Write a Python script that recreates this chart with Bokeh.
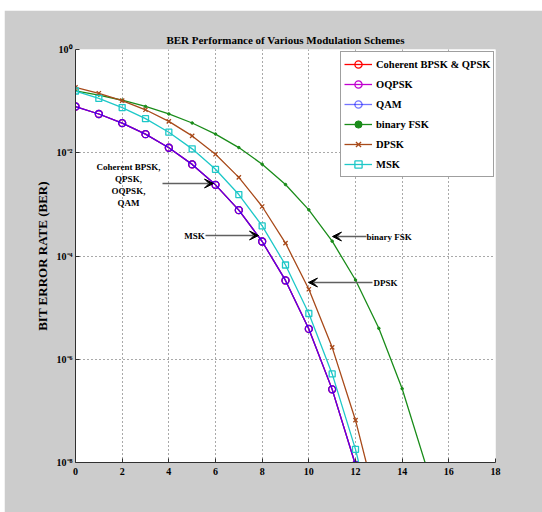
from bokeh.plotting import figure
from bokeh.models import (Range1d, FixedTicker, CustomJSTickFormatter, Label,
                          Arrow, VeeHead)
from bokeh.embed import file_html
from bokeh.resources import INLINE

# ---------------- data ----------------
snr_psk = [0, 1, 2, 3, 4, 5, 6, 7, 8, 9, 10, 11, 12, 13]
ber_bpsk_qpsk = [7.86e-2, 5.63e-2, 3.75e-2, 2.29e-2, 1.25e-2, 5.95e-3, 2.39e-3,
                 7.73e-4, 1.91e-4, 3.36e-5, 3.87e-6, 2.61e-7, 9.0e-9, 1.3e-10]
ber_oqpsk = [7.86e-2, 5.63e-2, 3.75e-2, 2.29e-2, 1.25e-2, 5.95e-3, 2.39e-3,
             7.73e-4, 1.91e-4, 3.36e-5, 3.87e-6, 2.61e-7, 9.0e-9, 1.3e-10]
ber_qam = [7.86e-2, 5.63e-2, 3.75e-2, 2.29e-2, 1.25e-2, 5.95e-3, 2.39e-3,
           7.73e-4, 1.91e-4, 3.36e-5, 3.87e-6, 2.61e-7, 9.0e-9, 1.3e-10]

snr_fsk = [0, 1, 2, 3, 4, 5, 6, 7, 8, 9, 10, 11, 12, 13, 14, 15]
ber_fsk = [0.1587, 0.1309, 0.1040, 0.0789, 0.0565, 0.0377, 0.0230, 1.26e-2,
           6.0e-3, 2.42e-3, 7.83e-4, 1.94e-4, 3.43e-5, 3.97e-6, 2.69e-7, 9.4e-9]

snr_dpsk = [0, 1, 2, 3, 4, 5, 6, 7, 8, 9, 10, 11, 12, 13]
ber_dpsk = [0.184, 0.142, 0.1025, 0.068, 0.0406, 0.0212, 9.34e-3, 3.33e-3,
            9.09e-4, 1.78e-4, 2.27e-5, 1.70e-6, 6.6e-8, 1.09e-9]

snr_msk = [0, 1, 2, 3, 4, 5, 6, 7, 8, 9, 10, 11, 12, 13]
ber_msk = [0.157, 0.113, 0.075, 0.0458, 0.025, 0.0119, 4.78e-3, 1.55e-3,
           3.82e-4, 6.7e-5, 7.7e-6, 5.2e-7, 1.8e-8, 2.6e-10]

x_ticks = [0, 2, 4, 6, 8, 10, 12, 14, 16, 18]
y_ticks = [1, 1e-2, 1e-4, 1e-6, 1e-8]

title_text = "BER Performance of Various Modulation Schemes"
y_label = "BIT ERROR RATE (BER)"

FONT = "Liberation Serif"

# ---------------- figure ----------------
OX, OY = 4, 10                      # page offset of the grey figure area
W, H = 538, 502
ML, MR, MT, MB = 75 - OX, W - (495 - OX), 49 - OY, H - (462 - OY)
p = figure(width=W, height=H, output_backend="svg", toolbar_location=None,
           y_axis_type="log", x_range=Range1d(0, 18), y_range=Range1d(1e-8, 1),
           min_border_left=ML, min_border_right=MR, min_border_top=MT,
           min_border_bottom=MB, title=title_text)
p.styles = {"margin-left": f"{OX}px", "margin-top": f"{OY}px"}
p.border_fill_color = "#cccccc"
p.background_fill_color = "white"
p.outline_line_color = None

p.title.align = "center"
p.title.text_font = FONT
p.title.text_font_style = "bold"
p.title.text_font_size = "11px"
p.title.text_color = "black"
p.title.standoff = 7

# axes
for ax in (p.xaxis[0], p.yaxis[0]):
    ax.axis_line_color = "#303030"
    ax.axis_line_width = 1
    ax.major_tick_in = 4
    ax.major_tick_out = 0
    ax.major_tick_line_color = "#303030"
    ax.minor_tick_line_color = None
    ax.major_label_text_font = FONT
    ax.major_label_text_font_style = "bold"
    ax.major_label_text_font_size = "10px"
    ax.major_label_text_color = "black"

p.xaxis.ticker = FixedTicker(ticks=x_ticks)
p.xaxis.major_label_standoff = 5
p.yaxis.ticker = FixedTicker(ticks=y_ticks)
p.yaxis.major_label_standoff = 3
p.yaxis.formatter = CustomJSTickFormatter(code="""
const sup = {"0":"\u2070","1":"\u00b9","2":"\u00b2","3":"\u00b3","4":"\u2074",
             "5":"\u2075","6":"\u2076","7":"\u2077","8":"\u2078","9":"\u2079","-":"\u207b"};
const e = Math.round(Math.log10(tick));
return "10" + String(e).split("").map(c => sup[c]).join("");
""")
p.yaxis.axis_label = y_label
p.yaxis.axis_label_text_font = FONT
p.yaxis.axis_label_text_font_style = "bold"
p.yaxis.axis_label_text_font_size = "13px"
p.yaxis.axis_label_text_color = "black"
p.yaxis.axis_label_standoff = 4

for g in (p.xgrid[0], p.ygrid[0]):
    g.grid_line_color = "#404040"
    g.grid_line_dash = "1 3"
    g.grid_line_width = 1
    g.grid_line_alpha = 0.9

# ---------------- series ----------------
RED, MAG, BLUE = "#ff0000", "#c000d0", "#0000ff"
GREEN, BROWN, CYAN = "#1a8c1a", "#a84a1a", "#1ec8c8"

lbl1 = "Coherent BPSK & QPSK"
p.line(snr_psk, ber_bpsk_qpsk, color=RED, line_width=1.3, legend_label=lbl1)
p.scatter(snr_psk, ber_bpsk_qpsk, marker="circle", size=7, line_color=RED,
          fill_color=None, line_width=1.3, legend_label=lbl1)

lbl2 = "OQPSK"
p.line(snr_psk, ber_oqpsk, color=MAG, line_width=1.3, legend_label=lbl2)
p.scatter(snr_psk, ber_oqpsk, marker="circle", size=7, line_color=MAG,
          fill_color=None, line_width=1.3, legend_label=lbl2)

lbl3 = "QAM"
p.line(snr_psk, ber_qam, color=BLUE, line_width=1.3, line_alpha=0.55, legend_label=lbl3)
p.scatter(snr_psk, ber_qam, marker="circle", size=7, line_color=BLUE,
          fill_color=None, line_width=1.3, line_alpha=0.55, legend_label=lbl3)

lbl4 = "binary FSK"
p.line(snr_fsk, ber_fsk, color=GREEN, line_width=1.3, legend_label=lbl4)
p.scatter(snr_fsk, ber_fsk, marker="circle", size=2.5, color=GREEN, legend_label=lbl4)

lbl5 = "DPSK"
p.line(snr_dpsk, ber_dpsk, color=BROWN, line_width=1.3, legend_label=lbl5)
p.scatter(snr_dpsk, ber_dpsk, marker="x", size=6, line_color=BROWN,
          line_width=1.3, legend_label=lbl5)

lbl6 = "MSK"
p.line(snr_msk, ber_msk, color=CYAN, line_width=1.3, legend_label=lbl6)
p.scatter(snr_msk, ber_msk, marker="square", size=6, line_color=CYAN,
          fill_color=None, line_width=1.3, legend_label=lbl6)

# ---------------- legend ----------------
lg = p.legend[0]
lg.location = (265, 285)
lg.margin = 0
lg.padding = 3
lg.spacing = 2
lg.glyph_height = 18
lg.label_height = 18
lg.glyph_width = 28
lg.label_standoff = 4
lg.label_text_font = FONT
lg.label_text_font_style = "bold"
lg.label_text_font_size = "10.5px"
lg.label_text_color = "black"
lg.border_line_color = "#404040"
lg.border_line_width = 1
lg.background_fill_color = "white"
lg.background_fill_alpha = 1.0


# ---------------- pixel helpers for annotation placement ----------------
def xd(px):
    return (px - 75) * 18.0 / 420.0


def yd(py):
    return 10 ** (-(py - 49) * 8.0 / 413.0)


def add_text(txt, px, py, size="9px", align="center"):
    p.add_layout(Label(x=xd(px), y=yd(py), text=txt, text_font=FONT,
                       text_font_style="bold", text_font_size=size,
                       text_align=align, text_baseline="middle",
                       text_color="black"))


def add_arrow(px0, py0, px1):
    p.add_layout(Arrow(x_start=xd(px0), y_start=yd(py0), x_end=xd(px1), y_end=yd(py0),
                       line_color="#606060", line_width=1.5,
                       end=VeeHead(size=9, fill_color="black", line_color="black")))


# annotations
for txt, py in [("Coherent BPSK,", 166), ("QPSK,", 178), ("OQPSK,", 190), ("QAM", 202)]:
    add_text(txt, 128, py)
add_arrow(162, 183, 213)

add_text("MSK", 194, 235)
add_arrow(205, 235, 258)

add_text("binary FSK", 366, 236, align="left")
add_arrow(366, 236, 332)

add_text("DPSK", 373, 282, align="left")
add_arrow(372, 282, 308)

# x-axis label with subscripts
S = 193
add_text("SIGNAL TO NOISE RATIO (E", S, 488, size="10px", align="left")
add_text("b", S + 137, 491.5, size="7px", align="left")
add_text("/N", S + 141, 488, size="10px", align="left")
add_text("0", S + 151.3, 491.5, size="7px", align="left")
add_text(") (dB)", S + 155, 488, size="10px", align="left")

open("out.html", "w").write(file_html(p, INLINE))
